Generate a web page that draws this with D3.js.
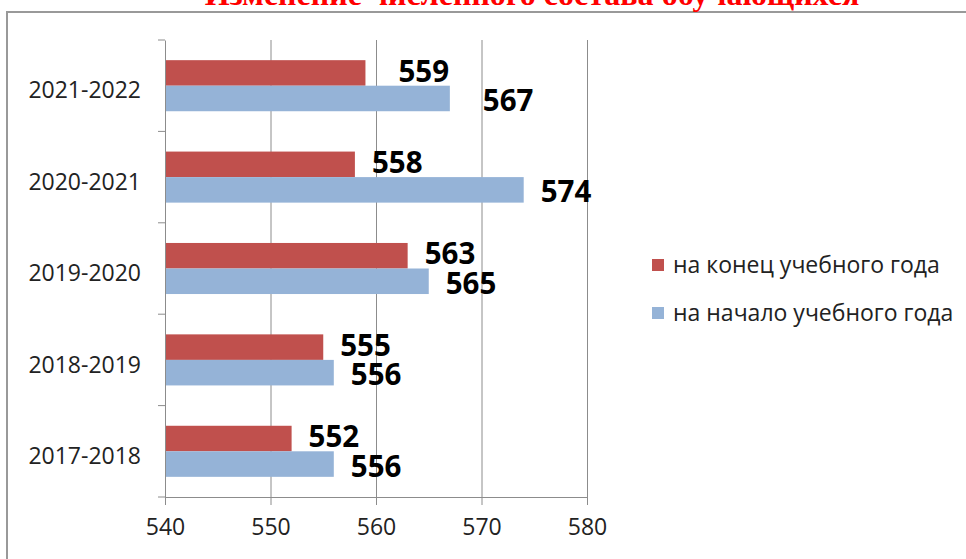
<!DOCTYPE html>
<html>
<head>
    <meta charset="UTF-8"/>
    <style>
        body {
            margin: 0;
            background: #fff;
            font-family: "Open Sans", Arial, sans-serif;
        }
    </style>
</head>
<body>
<script src="https://d3js.org/d3.v7.min.js"></script>
<div id="my_dataviz"></div>
<script>

    // data (top row first)
    var years = ["2021-2022", "2020-2021", "2019-2020", "2018-2019", "2017-2018"];
    var endOfYear = [559, 558, 563, 555, 552];     // на конец учебного года
    var startOfYear = [567, 574, 565, 556, 556];   // на начало учебного года
    var seriesNames = ["на конец учебного года", "на начало учебного года"];
    var xTicks = [540, 550, 560, 570, 580];
    var title = "Изменение численного состава обучающихся";

    var width = 966, height = 559;
    var margin = {top: 40, left: 165, right: 379, bottom: 62};

    var svg = d3.select("#my_dataviz")
        .append("svg")
        .attr("width", width)
        .attr("height", height);

    // frame of the chart (top and left edges only are in view)
    svg.append("path")
        .attr("d", "M7,559 V12 H966")
        .attr("fill", "none")
        .attr("stroke", "#999")
        .attr("stroke-width", 2);

    // title, mostly cut off at the top as in the original screenshot
    var t = svg.append("text")
        .attr("x", 532)
        .attr("y", 5)
        .attr("text-anchor", "middle")
        .attr("font-family", "'Liberation Serif', 'Times New Roman', serif")
        .attr("font-weight", "bold")
        .attr("font-size", 30)
        .attr("fill", "#ff0000")
        .text(title);
    var w = t.node().getComputedTextLength();
    t.attr("font-size", 30 * 655 / w);

    var x = d3.scaleLinear()
        .domain([540, 580])
        .range([margin.left, width - margin.right]);

    var y = d3.scaleBand()
        .domain(years)
        .range([margin.top, height - margin.bottom]);

    var inner = d3.scaleBand()
        .domain([0, 1])
        .range([0, y.bandwidth()])
        .paddingOuter(0.79)
        .paddingInner(0);

    // vertical gridlines
    svg.append("g")
        .selectAll("line")
        .data(xTicks.slice(1))
        .enter()
        .append("line")
        .attr("x1", function(d){ return x(d) + 0.5 })
        .attr("x2", function(d){ return x(d) + 0.5 })
        .attr("y1", margin.top)
        .attr("y2", height - margin.bottom)
        .attr("stroke", "#8c8c8c")
        .attr("stroke-width", 1);

    var rows = years.map(function(d, i) {
        return {year: d, values: [endOfYear[i], startOfYear[i]]};
    });
    var colors = ["#c0504d", "#95b3d7"];

    // top row labels were moved further right in the original
    var labelShift = {"2021-2022": 16};

    var groups = svg.append("g")
        .selectAll("g")
        .data(rows)
        .enter()
        .append("g")
        .attr("transform", function(d){ return "translate(0," + y(d.year) + ")" });

    groups.selectAll("rect")
        .data(function(d){ return d.values })
        .enter()
        .append("rect")
        .attr("x", x(540))
        .attr("y", function(d, i){ return inner(i) })
        .attr("width", function(d){ return x(d) - x(540) })
        .attr("height", inner.bandwidth())
        .attr("fill", function(d, i){ return colors[i] });

    groups.selectAll("text")
        .data(function(d){ return d.values.map(function(v){ return {v: v, year: d.year} }) })
        .enter()
        .append("text")
        .attr("x", function(d){ return x(d.v) + 17 + (labelShift[d.year] || 0) })
        .attr("y", function(d, i){ return inner(i) + inner.bandwidth() / 2 + (i == 0 ? -2 : 2) })
        .attr("dy", "0.36em")
        .attr("font-family", "'Open Sans', sans-serif")
        .attr("font-weight", "bold")
        .attr("font-size", 29.5)
        .attr("fill", "#000")
        .text(function(d){ return d.v });

    // axes
    var xAxis = svg.append("g")
        .attr("transform", "translate(0," + (height - margin.bottom) + ")")
        .call(d3.axisBottom(x).tickValues(xTicks).tickSize(8).tickSizeOuter(0).tickPadding(10));

    var yAxis = svg.append("g")
        .attr("transform", "translate(" + margin.left + ",0)")
        .call(d3.axisLeft(y).tickSize(0).tickPadding(24));

    // category boundary ticks on the y axis
    var bounds = years.map(function(d){ return y(d) }).concat([height - margin.bottom]);
    yAxis.selectAll(".bound")
        .data(bounds)
        .enter()
        .append("line")
        .attr("class", "bound")
        .attr("x1", -7)
        .attr("x2", 0)
        .attr("y1", function(d){ return d })
        .attr("y2", function(d){ return d })
        .attr("stroke", "#8c8c8c");

    [xAxis, yAxis].forEach(function(a) {
        a.selectAll(".domain, .tick line").attr("stroke", "#8c8c8c");
        a.selectAll("text")
            .attr("font-family", "'Open Sans', sans-serif")
            .attr("font-size", 23)
            .attr("fill", "#222");
    });
    yAxis.selectAll(".tick text").attr("dy", "0.55em");
    xAxis.selectAll(".tick text").attr("dy", "0.85em");

    // legend
    var legend = svg.append("g")
        .selectAll("g")
        .data(seriesNames)
        .enter()
        .append("g")
        .attr("transform", function(d, i){ return "translate(652," + (265 + i * 48) + ")" });

    legend.append("rect")
        .attr("x", 0)
        .attr("y", -6)
        .attr("width", 12)
        .attr("height", 12)
        .attr("fill", function(d, i){ return colors[i] });

    legend.append("text")
        .attr("x", 21)
        .attr("y", 0)
        .attr("dy", "0.36em")
        .attr("font-family", "'Open Sans', sans-serif")
        .attr("font-size", 23)
        .attr("fill", "#222")
        .text(function(d){ return d });

</script>
</body>
</html>
